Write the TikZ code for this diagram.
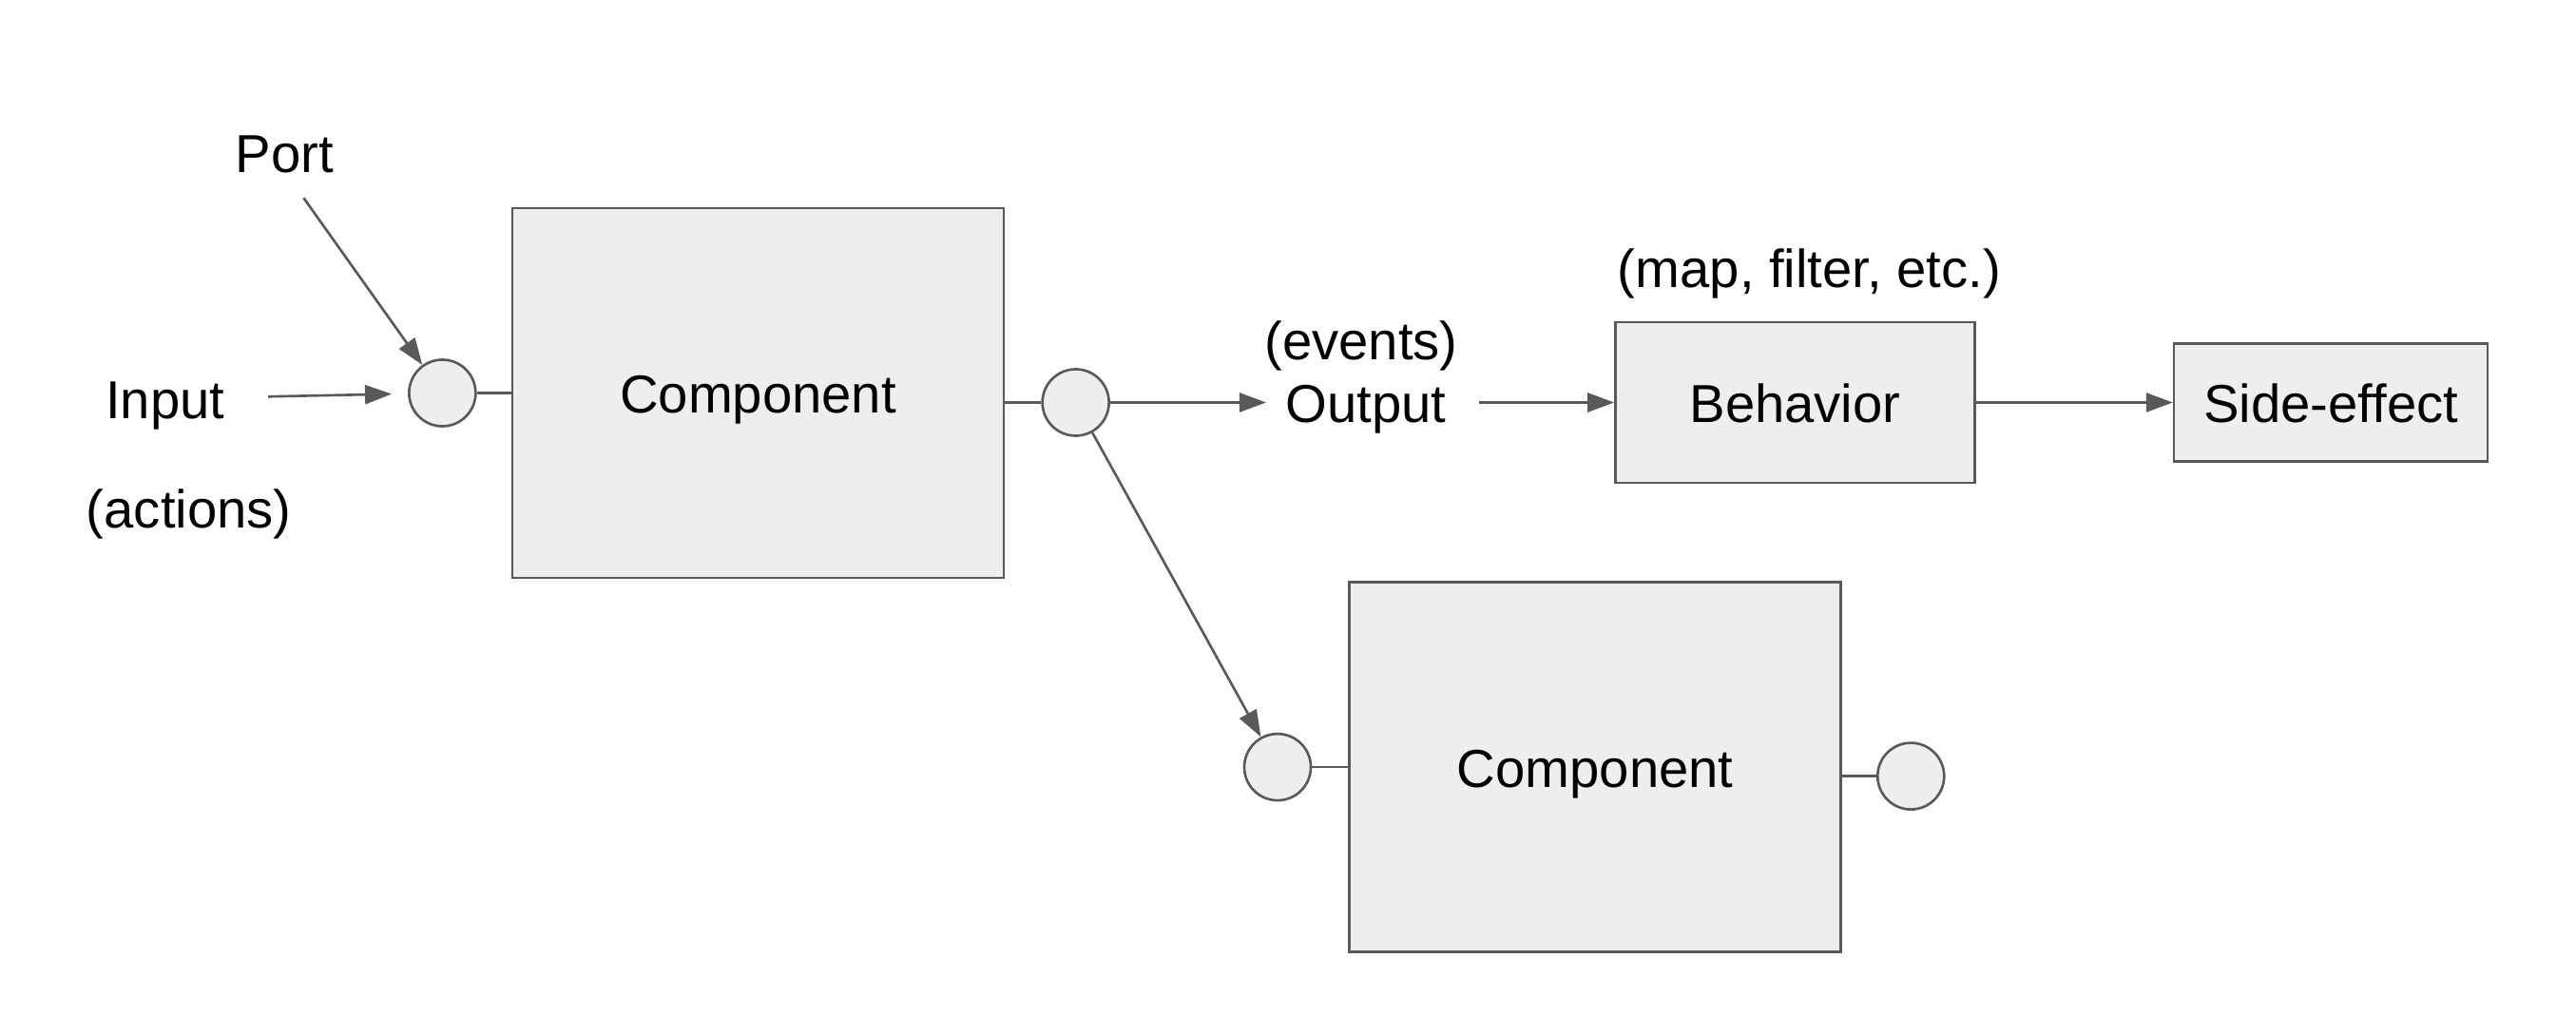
\documentclass[tikz,border=0pt]{standalone}
\usepackage{fontspec}
\setmainfont{Liberation Sans}
\usetikzlibrary{arrows.meta, positioning}
\usepackage{xcolor}
\definecolor{edge}{HTML}{595959}
\definecolor{boxfill}{HTML}{EEEEEE}

\begin{document}
\begin{tikzpicture}[
  txt/.style={inner sep=0.1cm, text height=0.42cm, text depth=0cm,
              font=\fontsize{16}{19}\selectfont},
  comp/.style={txt, rectangle, draw=edge, fill=boxfill, line width=0.75pt,
               minimum width=5.17cm, minimum height=3.89cm},
  port/.style={circle, draw=edge, fill=boxfill, line width=0.75pt,
               minimum size=0.7cm, inner sep=0pt},
  a/.style={draw=edge, line width=0.75pt,
            -{Triangle[length=0.28cm, width=0.2cm]}, color=edge},
  l/.style={draw=edge, line width=0.75pt},
]
  \useasboundingbox (0,0) rectangle (27.10,10.88);

  \node[comp] (comp1) at (7.975,6.745) {Component};
  \node[port, left=0.36cm of comp1]  (pin1)  {};
  \node[port, right=0.38cm of comp1, yshift=-0.1cm] (pout1) {};
  \node[txt, left=1.82cm of pin1, yshift=-0.06cm] (input) {Input};
  \node[txt, below=0.52cm of input, xshift=0.25cm] (actions) {(actions)};
  \node[txt, above=1.85cm of pin1, xshift=-1.66cm] (port) {Port};
  \coordinate[below right=0.16cm and 0.2cm of port.south] (porttail);

  \node[txt, right=1.74cm of pout1]  (output) {Output};
  \node[txt, above=0.03cm of output, xshift=-0.05cm] (events) {(events)};
  \node[comp, right=1.66cm of output, minimum width=3.78cm,
        minimum height=1.69cm] (behav) {Behavior};
  \node[txt, above=0.24cm of behav, xshift=0.15cm] (ops) {(map, filter, etc.)};
  \node[comp, right=2.07cm of behav, minimum width=3.30cm,
        minimum height=1.24cm] (side) {Side-effect};

  \node[comp, below right=0.02cm and 3.61cm of comp1] (comp2) {Component};
  \node[port, left=0.38cm of comp2]  (pin2)  {};
  \node[port, right=0.36cm of comp2, yshift=-0.095cm] (pout2) {};

  \draw[a, shorten <=0.35cm, shorten >=0.17cm] (input) -- (pin1);
  \draw[a] (porttail) -- (pin1);
  \draw[l] (pin1) -- (comp1);
  \draw[l] (pout1) -- (pout1 -| comp1.east);
  \draw[a, shorten >=0.1cm] (pout1) -- (output);
  \draw[a, shorten <=0.24cm] (output) -- (behav);
  \draw[a] (behav) -- (side);
  \draw[a] (pout1) -- (pin2);
  \draw[l] (pin2) -- (comp2);
  \draw[l] (pout2) -- (pout2 -| comp2.east);
\end{tikzpicture}
\end{document}
